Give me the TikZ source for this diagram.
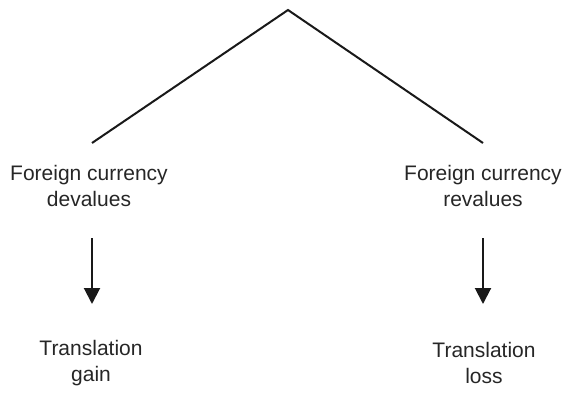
\documentclass[tikz,border=0pt]{standalone}
\usepackage{fontspec}
\setmainfont{Liberation Sans}
\usetikzlibrary{arrows.meta}
\begin{document}
\begin{tikzpicture}[x=1pt,y=-1pt,
  lbl/.style={align=center,inner sep=0pt,font=\fontsize{21}{25.5}\selectfont,text=black!85},
  branch/.style={line width=2pt,black!90},
  flow/.style={line width=2pt,black!90,-{Triangle[length=16pt,width=16pt]}}]
\useasboundingbox (0,0) rectangle (564,412);
\coordinate (apex) at (288,10);
\coordinate (lend) at (92,143);
\coordinate (rend) at (483,143);
\node[lbl,anchor=base] (dev) at (89,206) {Foreign currency\\devalues};
\node[lbl,anchor=base] (rev) at (483,206) {Foreign currency\\revalues};
\node[lbl,anchor=base] (gain) at (91,381) {Translation\\gain};
\node[lbl,anchor=base] (loss) at (484,383) {Translation\\loss};
\coordinate (la) at (92,238);
\coordinate (lb) at (92,304);
\coordinate (ra) at (483,238);
\coordinate (rb) at (483,304);
\draw[branch] (lend) -- (apex) -- (rend);
\draw[flow] (la) -- (lb);
\draw[flow] (ra) -- (rb);
\end{tikzpicture}
\end{document}
